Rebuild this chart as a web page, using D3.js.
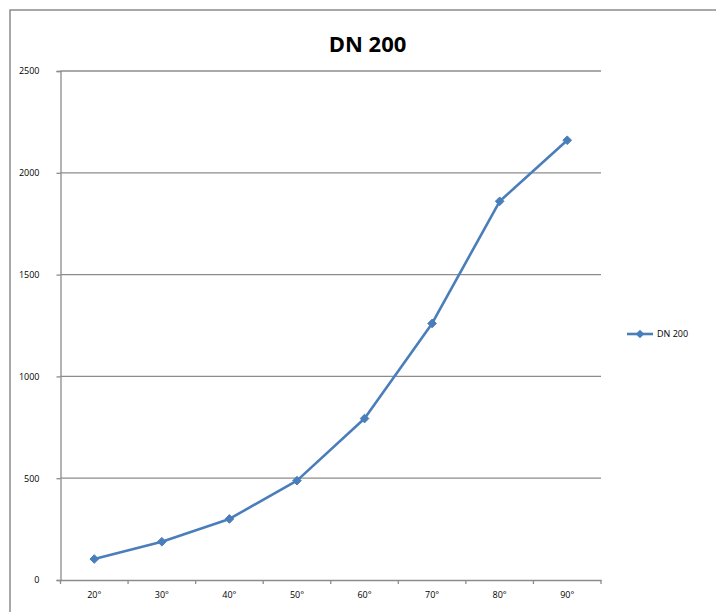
<!DOCTYPE html>
<html>
<head>
<meta charset="utf-8">
<script src="https://cdn.jsdelivr.net/npm/d3@7"></script>
<style>
  html, body { margin: 0; padding: 0; background: #fff; }
  svg { display: block; }
  text { font-family: "Open Sans", "Noto Sans", sans-serif; fill: #000; }
</style>
</head>
<body>
<svg id="chart" width="716" height="612"></svg>
<script>
// Series data
const categories = ["20°", "30°", "40°", "50°", "60°", "70°", "80°", "90°"];
const values = [103, 188, 300, 488, 793, 1260, 1860, 2160];
const yTicks = [0, 500, 1000, 1500, 2000, 2500];
const seriesName = "DN 200";
const chartTitle = "DN 200";

const svg = d3.select("#chart");
const margin = { left: 60.5, top: 71, right: 601, bottom: 580 };
const lineColor = "#4a7ebb";
const gridColor = "#8c8c8c";

// Outer chart frame (right and bottom edges fall outside the view)
svg.append("rect")
  .attr("x", 10).attr("y", 10)
  .attr("width", 760).attr("height", 660)
  .attr("fill", "#fff")
  .attr("stroke", "#8c8c8c")
  .attr("stroke-width", 1.5);

const x = d3.scaleBand().domain(categories).range([margin.left, margin.right]);
const y = d3.scaleLinear().domain([0, 2500]).range([margin.bottom, margin.top]);

// Horizontal gridlines
svg.append("g")
  .selectAll("line")
  .data(yTicks.filter(d => d > 0))
  .join("line")
  .attr("x1", margin.left).attr("x2", margin.right)
  .attr("y1", d => y(d)).attr("y2", d => y(d))
  .attr("stroke", gridColor).attr("stroke-width", 1.3);

// Y axis
const yAxis = svg.append("g")
  .attr("transform", `translate(${margin.left},0)`)
  .call(d3.axisLeft(y).tickValues(yTicks).tickSize(4).tickPadding(17).tickFormat(d3.format("d")));
yAxis.select(".domain").attr("stroke", gridColor).attr("stroke-width", 1.3);
yAxis.selectAll(".tick line").attr("stroke", gridColor).attr("stroke-width", 1.3);
yAxis.selectAll("text").attr("font-size", 9).attr("font-family", "Open Sans").attr("fill", "#000");

// X axis with ticks on category boundaries
const xAxis = svg.append("g")
  .attr("transform", `translate(0,${margin.bottom})`)
  .call(d3.axisBottom(x).tickSize(0).tickPadding(12));
xAxis.select(".domain").attr("stroke", gridColor).attr("stroke-width", 1.3);
xAxis.selectAll("text").attr("font-size", 9).attr("font-family", "Open Sans").attr("fill", "#000");
const bounds = categories.map(c => x(c)).concat([x(categories[categories.length - 1]) + x.bandwidth()]);
xAxis.selectAll(".bound")
  .data(bounds)
  .join("line")
  .attr("class", "bound")
  .attr("x1", d => d).attr("x2", d => d)
  .attr("y1", 0).attr("y2", 4)
  .attr("stroke", gridColor).attr("stroke-width", 1.3);

// Data line
const pts = categories.map((c, i) => [x(c) + x.bandwidth() / 2, y(values[i])]);
svg.append("path")
  .attr("d", d3.line()(pts))
  .attr("fill", "none")
  .attr("stroke", lineColor)
  .attr("stroke-width", 2.6)
  .attr("stroke-linejoin", "round");

const diamond = d3.symbol().type(d3.symbolDiamond2).size(48);
svg.append("g")
  .selectAll("path")
  .data(pts)
  .join("path")
  .attr("transform", d => `translate(${d[0]},${d[1]})`)
  .attr("d", diamond)
  .attr("fill", lineColor)
  .attr("stroke", lineColor)
  .attr("stroke-width", 1);

// Title
svg.append("text")
  .attr("x", 367.5).attr("y", 52)
  .attr("text-anchor", "middle")
  .attr("font-size", 22)
  .attr("font-weight", "bold")
  .text(chartTitle);

// Legend
const legend = svg.append("g").attr("transform", "translate(627,334)");
legend.append("line")
  .attr("x1", 0).attr("x2", 26).attr("y1", 0).attr("y2", 0)
  .attr("stroke", lineColor).attr("stroke-width", 2.6);
legend.append("path")
  .attr("transform", "translate(13,0)")
  .attr("d", diamond)
  .attr("fill", lineColor);
legend.append("text")
  .attr("x", 30).attr("y", 3)
  .attr("font-size", 9)
  .text(seriesName);
</script>
</body>
</html>
